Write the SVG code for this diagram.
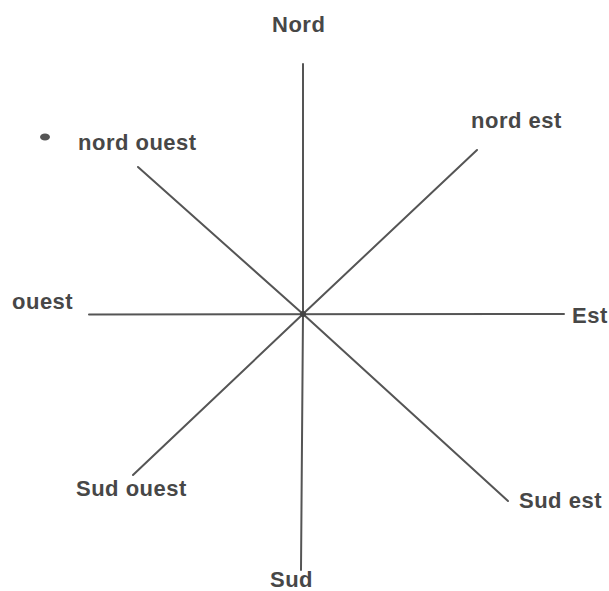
<svg xmlns="http://www.w3.org/2000/svg" width="609" height="591" viewBox="0 0 609 591">
<style>
.lbl{font-family:"Liberation Sans",Arial,sans-serif;font-weight:bold;font-size:22px;fill:#474747;letter-spacing:0.5px}
.ray{stroke:#555;stroke-width:2;fill:none;stroke-linecap:round}
</style>
<rect width="609" height="591" fill="#fff"/>
<g id="connectors">
<line class="ray" x1="303" y1="64" x2="303" y2="314"/>
<line class="ray" x1="303" y1="314" x2="301" y2="570"/>
<line class="ray" x1="89" y1="314.5" x2="564" y2="314"/>
<line class="ray" x1="138" y1="167" x2="303" y2="314"/>
<line class="ray" x1="477" y1="150" x2="303" y2="314"/>
<line class="ray" x1="133" y1="475" x2="303" y2="314"/>
<line class="ray" x1="508" y1="501" x2="303" y2="314"/>
<circle cx="303" cy="314" r="3" fill="#444"/>
</g>
<g id="nord"><text class="lbl" x="272" y="32">Nord</text></g>
<g id="nord-ouest"><text class="lbl" x="78" y="150">nord ouest</text><ellipse cx="45" cy="137" rx="5" ry="3.5" fill="#555"/></g>
<g id="nord-est"><text class="lbl" x="471" y="128">nord est</text></g>
<g id="ouest"><text class="lbl" x="12" y="309">ouest</text></g>
<g id="est"><text class="lbl" x="572" y="323" letter-spacing="0">Est</text></g>
<g id="sud-ouest"><text class="lbl" x="76" y="496">Sud ouest</text></g>
<g id="sud-est"><text class="lbl" x="519" y="508">Sud est</text></g>
<g id="sud"><text class="lbl" x="270" y="587">Sud</text></g>
</svg>
